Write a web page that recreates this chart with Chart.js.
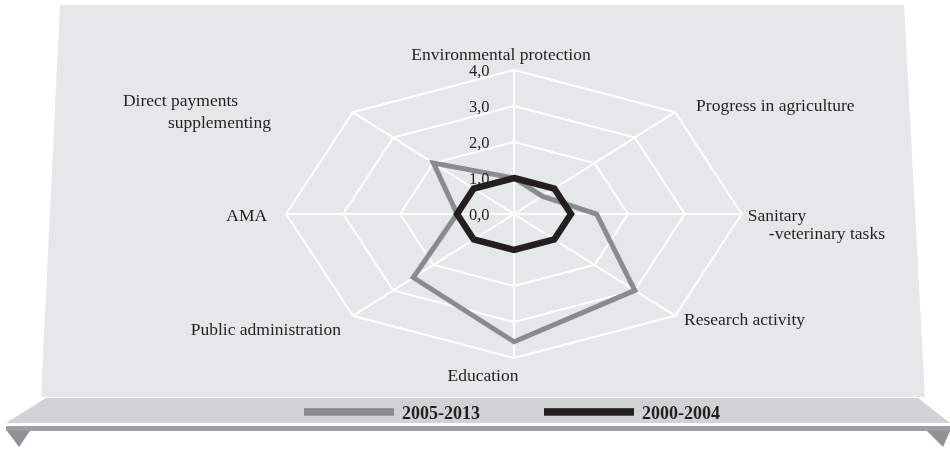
<!DOCTYPE html>
<html>
<head>
<meta charset="utf-8">
<script src="https://cdn.jsdelivr.net/npm/chart.js@4.4.0/dist/chart.umd.min.js"></script>
<style>
html,body{margin:0;padding:0;background:#ffffff;}
#wrap{position:relative;width:950px;height:449px;overflow:hidden;}
canvas{display:block;}
</style>
</head>
<body>
<div id="wrap"><canvas id="c" width="950" height="449"></canvas></div>
<script>
// ---------- data ----------
const categories = [
  ['Environmental protection'],
  ['Progress in agriculture'],
  ['Sanitary', '-veterinary tasks'],
  ['Research activity'],
  ['Education'],
  ['Public administration'],
  ['AMA'],
  ['Direct payments', 'supplementing']
];
const seriesLabels = ['2005-2013', '2000-2004'];
const values2005_2013 = [1.0, 0.7, 1.45, 3.0, 3.55, 2.5, 1.0, 2.0];
const values2000_2004 = [1.0, 1.0, 1.0, 1.0, 1.0, 1.0, 1.0, 1.0];
const tickMin = 0;
const tickMax = 4;
const tickStep = 1;

// ---------- styling ----------
const STRETCH_X = 1.582;           // the reference radar is wider than tall
const LABEL_FONT = '17.5px "Liberation Serif", "Times New Roman", serif';
const TICK_FONT = '16.5px "Liberation Serif", "Times New Roman", serif';
const LEGEND_FONT = 'bold 18px "Liberation Serif", "Times New Roman", serif';
// per-label placement relative to the outer vertex: dx/dy of first baseline, align, extra indent per line, line height
const labelPlacement = [
  {dx: -13, dy: -10, align: 'center', indent: [0], lh: 0},
  {dx: 21, dy: -1, align: 'left', indent: [0], lh: 0},
  {dx: 6, dy: 7, align: 'left', indent: [0, 21], lh: 18},
  {dx: 9, dy: 9, align: 'left', indent: [0], lh: 0},
  {dx: -31, dy: 23, align: 'center', indent: [0], lh: 0},
  {dx: -12, dy: 19, align: 'right', indent: [0], lh: 0},
  {dx: -19, dy: 7, align: 'right', indent: [0], lh: 0},
  {dx: -230, dy: -6, align: 'left', indent: [0, 45], lh: 22}
];

// stretch the radial scale horizontally (grid, angle lines and data all go through this)
const RLS = Chart.RadialLinearScale || Chart.registry.getScale('radialLinear');
const baseGetPointPosition = RLS.prototype.getPointPosition;
RLS.prototype.getPointPosition = function (index, distance, additionalAngle) {
  const p = baseGetPointPosition.call(this, index, distance, additionalAngle);
  return {x: this.xCenter + (p.x - this.xCenter) * STRETCH_X, y: p.y, angle: p.angle};
};

function poly(ctx, pts, color) {
  ctx.beginPath();
  ctx.moveTo(pts[0][0], pts[0][1]);
  for (let i = 1; i < pts.length; i++) ctx.lineTo(pts[i][0], pts[i][1]);
  ctx.closePath();
  ctx.fillStyle = color;
  ctx.fill();
}

const decor = {
  id: 'decor',
  beforeDraw(chart) {
    const ctx = chart.ctx;
    ctx.save();
    // back wall
    poly(ctx, [[60, 5], [904, 5], [925, 397], [41, 397]], '#e6e7e8');
    // floor
    poly(ctx, [[46, 398], [918, 398], [950, 423], [6, 423]], '#d1d2d4');
    // front edge
    poly(ctx, [[6, 426], [950, 426], [950, 431], [6, 431]], '#9d9fa2');
    poly(ctx, [[7, 431], [30, 431], [19, 447]], '#8f9194');
    poly(ctx, [[927, 431], [950, 431], [943, 447]], '#8f9194');
    ctx.restore();
  },
  afterDraw(chart) {
    const ctx = chart.ctx;
    const scale = chart.scales.r;
    ctx.save();
    ctx.fillStyle = '#231f20';
    // tick labels
    ctx.font = TICK_FONT;
    ctx.textAlign = 'right';
    ctx.textBaseline = 'alphabetic';
    scale.ticks.forEach(t => {
      const y = scale.yCenter - scale.getDistanceFromCenterForValue(t.value);
      ctx.fillText(t.label, scale.xCenter - 24.5, y + 6);
    });
    // point labels
    ctx.font = LABEL_FONT;
    chart.data.labels.forEach((lines, i) => {
      const v = scale.getPointPosition(i, scale.drawingArea);
      const pl = labelPlacement[i];
      ctx.textAlign = pl.align;
      lines.forEach((line, k) => {
        ctx.fillText(line, v.x + pl.dx + (pl.indent[k] || 0), v.y + pl.dy + k * pl.lh);
      });
    });
    // legend on the floor
    ctx.font = LEGEND_FONT;
    ctx.textAlign = 'left';
    const boxW = 90, boxH = 7.5, gap = 8, itemGap = 64;
    const ds = chart.data.datasets;
    const widths = ds.map(d => ctx.measureText(d.label).width);
    const total = widths.reduce((a, w) => a + boxW + gap + w, 0) + itemGap * (ds.length - 1);
    let x = 512 - total / 2;
    ds.forEach((d, i) => {
      ctx.fillStyle = d.borderColor;
      ctx.fillRect(x, 408.2, boxW, boxH);
      ctx.fillStyle = '#231f20';
      ctx.fillText(d.label, x + boxW + gap, 419);
      x += boxW + gap + widths[i] + itemGap;
    });
    ctx.restore();
  }
};

new Chart(document.getElementById('c'), {
  type: 'radar',
  data: {
    labels: categories,
    datasets: [
      {label: seriesLabels[0], data: values2005_2013, borderColor: '#8a8b8d', backgroundColor: 'transparent',
       borderWidth: 5, pointRadius: 0, pointHoverRadius: 0, fill: false, order: 1, borderJoinStyle: 'miter'},
      {label: seriesLabels[1], data: values2000_2004, borderColor: '#231f20', backgroundColor: 'transparent',
       borderWidth: 6.5, pointRadius: 0, pointHoverRadius: 0, fill: false, order: 0, borderJoinStyle: 'miter'}
    ]
  },
  options: {
    responsive: false,
    animation: false,
    devicePixelRatio: 1,
    layout: {padding: {left: 370, right: 292, top: 70, bottom: 91}},
    plugins: {legend: {display: false}, tooltip: {enabled: false}},
    events: [],
    scales: {
      r: {
        min: tickMin,
        max: tickMax,
        beginAtZero: true,
        ticks: {display: false, stepSize: tickStep, callback: v => v.toFixed(1).replace('.', ',')},
        pointLabels: {display: false},
        grid: {color: '#ffffff', lineWidth: 2},
        angleLines: {color: '#ffffff', lineWidth: 2}
      }
    }
  },
  plugins: [decor]
});
</script>
</body>
</html>
